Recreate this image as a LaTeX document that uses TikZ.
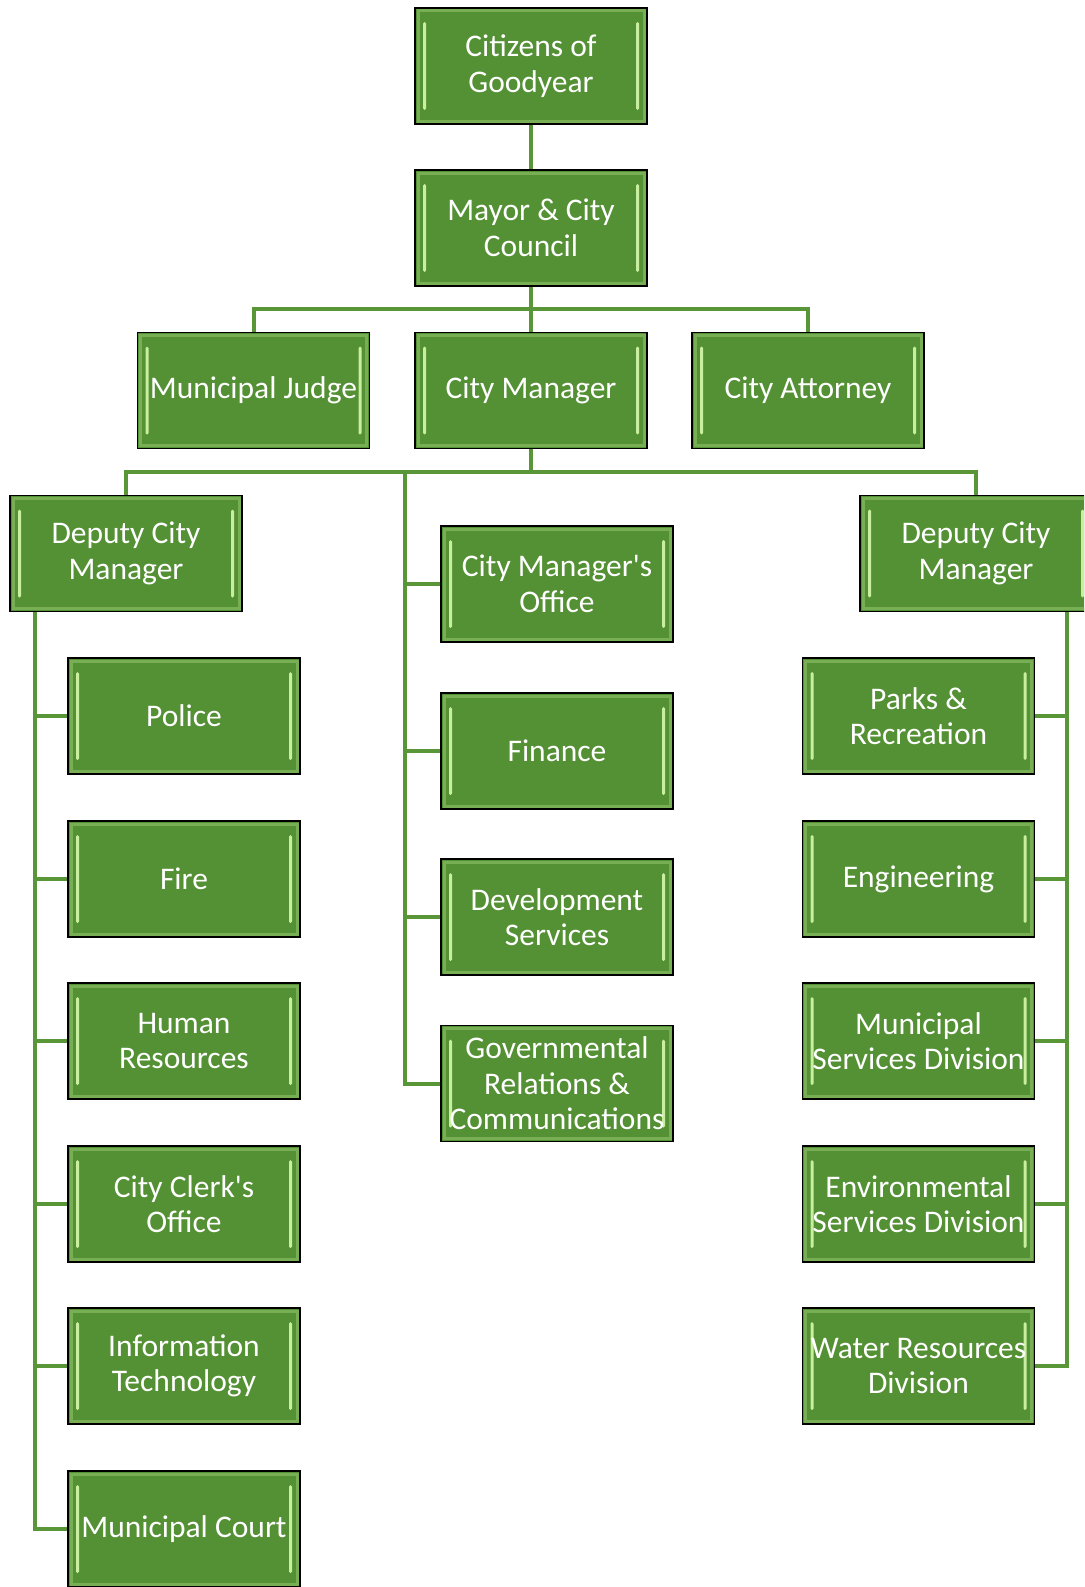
\documentclass[tikz,border=0pt]{standalone}
\usepackage{fontspec}
\setmainfont{Carlito}
\usetikzlibrary{calc}
\definecolor{boxG}{RGB}{84,144,52}
\definecolor{rimG}{RGB}{120,175,85}
\definecolor{hiG}{RGB}{200,238,160}
\definecolor{lineG}{RGB}{88,150,56}
\tikzset{
  orgbox/.style={draw=black, line width=1.3pt, fill=boxG, text=white,
    minimum width=232pt, minimum height=116pt, inner sep=0pt, align=center,
    font=\fontsize{31.5}{35.5}\selectfont,
    path picture={
      \draw[rimG, line width=3pt] ([xshift=3pt,yshift=-3pt]path picture bounding box.north west) rectangle ([xshift=-3pt,yshift=3pt]path picture bounding box.south east);
      \fill[hiG, rounded corners=1.5pt] ([xshift=8pt,yshift=-14pt]path picture bounding box.north west) rectangle ([xshift=11pt,yshift=14pt]path picture bounding box.south west);
      \fill[hiG, rounded corners=1.5pt] ([xshift=-8pt,yshift=-14pt]path picture bounding box.north east) rectangle ([xshift=-11pt,yshift=14pt]path picture bounding box.south east);
    }},
  link/.style={draw=lineG, line width=4pt}
}
\begin{document}
\begin{tikzpicture}[x=1pt,y=-1pt]
\useasboundingbox (0,0) rectangle (1084,1587);
\clip (0,0) rectangle (1084,1587);
% top
\node[orgbox] (citizens) at (531,66) {Citizens of\\Goodyear};
\node[orgbox] (mayor) at (531,228) {Mayor \& City\\Council};
\node[orgbox] (judge) at (253.5,390.5) {Municipal Judge};
\node[orgbox] (cm) at (531,390.5) {City Manager};
\node[orgbox] (attorney) at (808,390.5) {City Attorney};
\node[orgbox] (dcmL) at (126,553.5) {Deputy City\\Manager};
\node[orgbox] (dcmR) at (976,553.5) {Deputy City\\Manager};
% central
\node[orgbox] (cmo) at (557,584) {City Manager\textquotesingle s\\Office};
\node[orgbox] (finance) at (557,751) {Finance};
\node[orgbox] (dev) at (557,917) {Development\\Services};
\node[orgbox] (gov) at (557,1083.5) {Governmental\\Relations \&\\Communications};
% left
\node[orgbox] (police) at (184,716) {Police};
\node[orgbox] (fire) at (184,879) {Fire};
\node[orgbox] (hr) at (184,1041) {Human\\Resources};
\node[orgbox] (clerk) at (184,1204) {City Clerk\textquotesingle s\\Office};
\node[orgbox] (it) at (184,1366) {Information\\Technology};
\node[orgbox] (court) at (184,1529) {Municipal Court};
% right
\node[orgbox] (parks) at (918.5,716) {Parks \&\\Recreation};
\node[orgbox] (eng) at (918.5,879) {Engineering};
\node[orgbox] (msd) at (918.5,1041) {Municipal\\Services Division};
\node[orgbox] (esd) at (918.5,1204) {Environmental\\Services Division};
\node[orgbox] (water) at (918.5,1366) {Water Resources\\Division};
% junctions
\coordinate (busA) at (531,309);
\coordinate (busB) at (531,472);
\coordinate (busC) at (405,472);
\coordinate (leftTop) at (35,612);
\coordinate (rightTop) at (1067,612);
% connectors
\draw[link] (citizens.south) -- (mayor.north);
\draw[link] (mayor.south) -- (cm.north);
\draw[link] (judge.north) |- (busA) -| (attorney.north);
\draw[link] (cm.south) -- (busB);
\draw[link] (dcmL.north) |- (busB) -| (dcmR.north);
\draw[link] (busC) |- (cmo.west);
\draw[link] (busC) |- (finance.west);
\draw[link] (busC) |- (dev.west);
\draw[link] (busC) |- (gov.west);
\draw[link] (leftTop) |- (police.west);
\draw[link] (leftTop) |- (fire.west);
\draw[link] (leftTop) |- (hr.west);
\draw[link] (leftTop) |- (clerk.west);
\draw[link] (leftTop) |- (it.west);
\draw[link] (leftTop) |- (court.west);
\draw[link] (rightTop) |- (parks.east);
\draw[link] (rightTop) |- (eng.east);
\draw[link] (rightTop) |- (msd.east);
\draw[link] (rightTop) |- (esd.east);
\draw[link] (rightTop) |- (water.east);
\end{tikzpicture}
\end{document}
